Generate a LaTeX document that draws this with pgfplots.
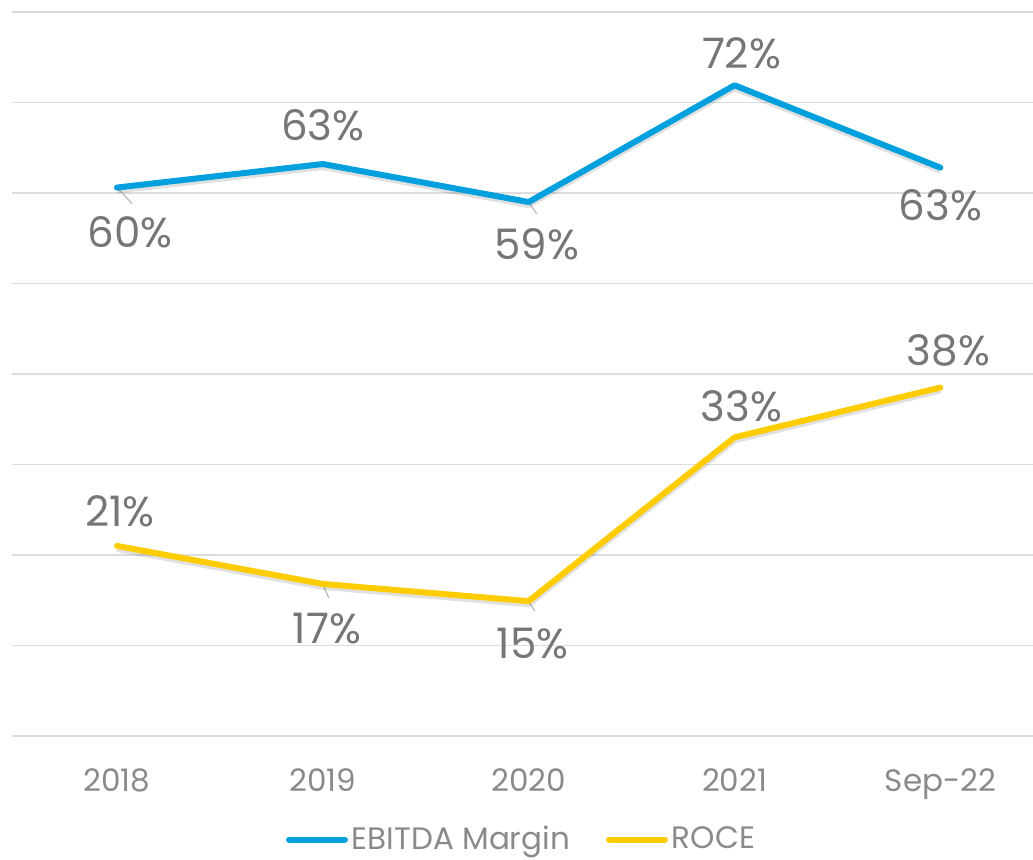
\documentclass[border=0pt]{standalone}
\usepackage{pgfplots}
\pgfplotsset{compat=1.18}
\usepackage{pgfplotstable}
\usepackage{fontspec}
\setmainfont{Poppins}
\definecolor{ebitda}{HTML}{00A0DE}
\definecolor{roce}{HTML}{FFCC00}
\definecolor{gridc}{HTML}{DDDDDD}
\definecolor{labc}{HTML}{767676}
\definecolor{tickc}{HTML}{8A8A8A}

\pgfplotstableread{
x y dx dy lab
0 60.6 6.5 -30 60
1 63.2 0 12 63
2 59.0 4 -28.5 59
3 71.9 3.5 8.5 72
4 62.8 0 -26.5 63
}\ebitda
\pgfplotstableread{
x y dx dy lab
0 21.0 1.5 9.5 21
1 16.8 2 -30 17
2 14.9 2 -28.5 15
3 33.0 3.5 8 33
4 38.5 4 11 38
}\roce
\pgfplotstableread{
x y u v
0 60.6 0.073 -1.77
2 59.0 0.039 -1.33
1 16.8 0.029 -1.55
2 14.9 0.029 -1.10
}\leaders

\pgfplotsset{lbl/.style={
  point meta=explicit symbolic,
  nodes near coords={\pgfplotspointmeta\%},
  visualization depends on={\thisrow{dx}\as\dx},
  visualization depends on={\thisrow{dy}\as\dy},
  nodes near coords style={anchor=base, font=\fontsize{21}{25}\selectfont, text=labc, xshift=\dx pt, yshift=\dy pt, inner sep=0pt},
}}

\begin{document}
\begin{tikzpicture}
\begin{axis}[
  scale only axis,
  width=510.5pt, height=362pt,
  xmin=-0.51, xmax=4.45,
  ymin=0, ymax=80,
  ytick={0,10,...,80},
  yticklabels={},
  ymajorgrids,
  grid style={gridc, line width=0.7pt},
  axis line style={draw=none},
  major tick length=0pt,
  xtick={0,1,2,3,4},
  xticklabels={2018,2019,2020,2021,Sep-22},
  xticklabel style={anchor=base, yshift=-28pt, font=\fontsize{15.5}{18}\selectfont, text=tickc},
  clip=false,
  legend columns=2,
  legend style={draw=none, at={(0.5,-0.143)}, anchor=center,
    font=\fontsize{15.5}{18}\selectfont, text=tickc,
    /tikz/every even column/.append style={column sep=16pt},
    inner sep=0pt},
  legend image code/.code={\draw[#1, line cap=round] (0pt,0pt) -- (28pt,0pt);},
]
% leader lines
\addplot[forget plot, gray!55, line width=0.6pt,
  quiver={u=\thisrow{u}, v=\thisrow{v}}, -] table[x=x, y=y] {\leaders};
% shadows
\addplot[forget plot, black, opacity=0.12, line width=3pt, yshift=-1.5pt] table[x=x,y=y] {\ebitda};
\addplot[forget plot, black, opacity=0.12, line width=3pt, yshift=-1.5pt] table[x=x,y=y] {\roce};
\addplot[ebitda, line width=3pt, line join=round, line cap=round, lbl] table[x=x, y=y, meta=lab] {\ebitda};
\addlegendentry{EBITDA Margin}
\addplot[roce, line width=3pt, line join=round, line cap=round, lbl] table[x=x, y=y, meta=lab] {\roce};
\addlegendentry{ROCE}
\end{axis}
\pgfresetboundingbox
\path (-6pt,-62pt) rectangle (510.5pt,368pt);
\end{tikzpicture}
\end{document}
